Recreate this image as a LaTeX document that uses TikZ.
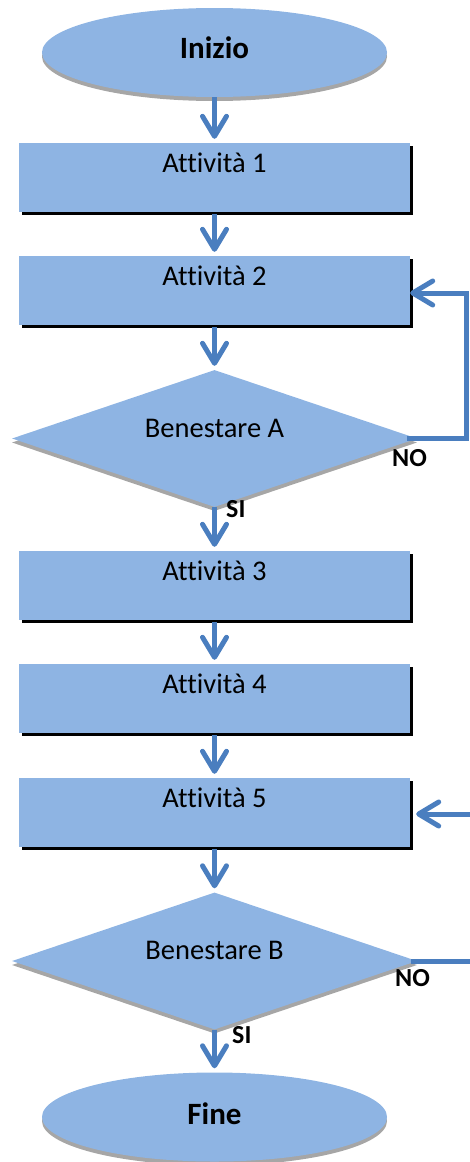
\documentclass[tikz,border=0pt]{standalone}
\usepackage{fontspec}
\setmainfont[Ligatures=NoCommon]{Carlito}
\usetikzlibrary{shapes.geometric, arrows.meta, shadows}
\definecolor{boxfill}{HTML}{8EB4E3}
\definecolor{flowblue}{HTML}{4A7EBF}
\definecolor{shadowgray}{HTML}{A6A6A6}

\begin{document}
\begin{tikzpicture}[x=1pt, y=-1pt,
  box/.style={rectangle, fill=boxfill, inner sep=0pt, minimum width=391pt,
    text height=29pt, text depth=40pt, font=\fontsize{28.5}{30}\selectfont,
    drop shadow={shadow xshift=3pt, shadow yshift=-3pt, fill=black, opacity=1}},
  terminal/.style={ellipse, fill=boxfill, inner sep=0pt, minimum width=345pt,
    minimum height=89pt,
    drop shadow={shadow xshift=0pt, shadow yshift=-4pt, fill=shadowgray, opacity=1}},
  decision/.style={diamond, fill=boxfill, inner sep=0pt, minimum width=405pt,
    minimum height=137pt,
    drop shadow={shadow xshift=0pt, shadow yshift=-4pt, fill=shadowgray, opacity=1}},
  termtext/.style={anchor=base, inner sep=0pt, font=\fontsize{31}{33}\bfseries\selectfont},
  dectext/.style={anchor=base, inner sep=0pt, font=\fontsize{28.5}{30}\selectfont},
  answer/.style={anchor=base west, inner sep=0pt, font=\fontsize{26}{28}\bfseries\selectfont},
  link/.style={draw=flowblue, line width=5pt, line join=miter},
  flow/.style={link, -{Straight Barb[length=20pt, width=24pt, round]}, shorten >=4pt},
]
\useasboundingbox (0,0) rectangle (469,1162);

% start / end terminals
\node[terminal] (start) at (214.5,52.5) {};
\node[termtext] (tstart) at (214.5,58) {Inizio};
\node[terminal] (stop) at (214.5,1117) {};
\node[termtext] (tstop) at (214.5,1124) {Fine};

% activities
\node[box] (b1) at (214.5,177.5) {Attività 1};
\node[box] (b2) at (214.5,290.5) {Attività 2};
\node[box] (b3) at (214.5,585.5) {Attività 3};
\node[box] (b4) at (214.5,698.5) {Attività 4};
\node[box] (b5) at (214.5,812.5) {Attività 5};

% decisions
\node[decision] (dA) at (214.5,438.5) {};
\node[dectext] (tA) at (214.5,437) {Benestare A};
\node[decision] (dB) at (214.5,961) {};
\node[dectext] (tB) at (214.5,959) {Benestare B};

% answer labels
\node[answer] (noA) at (392,466) {NO};
\node[answer] (siA) at (226,517) {SI};
\node[answer] (noB) at (395,986) {NO};
\node[answer] (siB) at (232,1043) {SI};

% main flow
\draw[flow] (start.south) -- (b1.north);
\draw[flow, shorten <=2pt] (b1.south) -- (b2.north);
\draw[flow, shorten <=2pt] (b2.south) -- (dA.north);
\draw[flow] (dA.south) -- (b3.north);
\draw[flow, shorten <=2pt] (b3.south) -- (b4.north);
\draw[flow, shorten <=2pt] (b4.south) -- (b5.north);
\draw[flow, shorten <=2pt] (b5.south) -- (dB.north);
\draw[flow] (dB.south) -- (stop.north);

% NO loop of decision A back to activity 2
\coordinate (loopA) at (466.5,293);
\draw[flow, shorten >=0pt] ([xshift=-10pt]dA.east) -| (loopA) -- (b2.east |- loopA);

% NO branch of decision B, returning to activity 5
\coordinate (outB) at (472,961);
\coordinate (inB) at (472,814);
\draw[link] ([xshift=-6pt]dB.east) -- (outB);
\draw[flow, shorten >=6pt] (inB) -- (b5.east |- inB);
\end{tikzpicture}
\end{document}
